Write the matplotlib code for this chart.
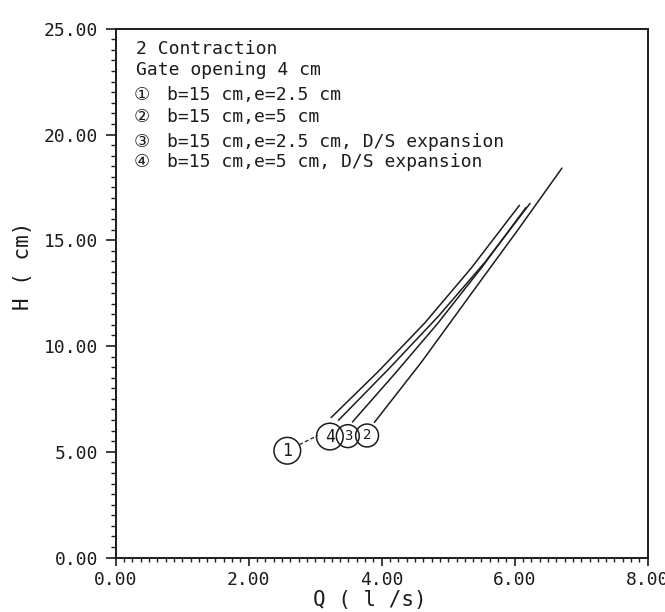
import matplotlib

matplotlib.use("Agg")
import matplotlib.pyplot as plt
from matplotlib.ticker import FormatStrFormatter, MultipleLocator

# Rating curves, 2 contraction, gate opening 4 cm
# discharge Q (l/s) against upstream head H (cm)
q_run1 = [3.35, 4.10, 4.85, 5.55, 6.23]
h_run1 = [6.49, 8.90, 11.40, 13.95, 16.74]

q_run2 = [3.89, 4.60, 5.38, 6.05, 6.71]
h_run2 = [6.39, 9.25, 12.62, 15.50, 18.41]

q_run3 = [3.56, 4.20, 4.85, 5.50, 6.17]
h_run3 = [6.41, 8.70, 11.10, 13.70, 16.55]

q_run4 = [3.24, 3.95, 4.65, 5.35, 6.07]
h_run4 = [6.62, 8.80, 11.10, 13.70, 16.65]

run_names = ["1", "2", "3", "4"]
run_notes = [
    "b=15 cm,e=2.5 cm",
    "b=15 cm,e=5 cm",
    "b=15 cm,e=2.5 cm, D/S expansion",
    "b=15 cm,e=5 cm, D/S expansion",
]

MONO = "DejaVu Sans Mono"
INK = "#1c1c1c"

fig, ax = plt.subplots(figsize=(6.65, 6.12), dpi=100)
fig.patch.set_facecolor("white")
fig.subplots_adjust(left=0.174, right=0.974, bottom=0.089, top=0.953)

for q, h in [(q_run1, h_run1), (q_run2, h_run2), (q_run3, h_run3), (q_run4, h_run4)]:
    ax.plot(q, h, color=INK, lw=1.1, solid_capstyle="round")

# circled run numbers at the foot of each curve
circle_font = {"1": 12, "2": 10, "3": 10, "4": 12}
circle_pad = {"1": 0.26, "2": 0.32, "3": 0.32, "4": 0.26}
circle_at = {"1": (2.58, 5.05), "4": (3.22, 5.72), "3": (3.49, 5.74), "2": (3.78, 5.77)}
for name in ["4", "3", "2"]:
    ax.text(
        *circle_at[name], name,
        ha="center", va="center", family=MONO, fontsize=circle_font[name], color=INK,
        bbox=dict(boxstyle=f"circle,pad={circle_pad[name]}", fc="none", ec=INK, lw=1.1),
    )
ax.annotate(
    "1", xy=(3.03, 5.76), xytext=circle_at["1"],
    ha="center", va="center", family=MONO, fontsize=circle_font["1"], color=INK,
    bbox=dict(boxstyle=f"circle,pad={circle_pad['1']}", fc="none", ec=INK, lw=1.1),
    arrowprops=dict(arrowstyle="-", color=INK, lw=0.9, linestyle=(0, (2.5, 2.5)),
                    shrinkA=0, shrinkB=0),
)

# header block in the top-left corner
ax.text(0.039, 0.962, "2 Contraction", transform=ax.transAxes,
        family=MONO, fontsize=13, color=INK, va="center")
ax.text(0.039, 0.922, "Gate opening 4 cm", transform=ax.transAxes,
        family=MONO, fontsize=13, color=INK, va="center")
circled = ["\u2460", "\u2461", "\u2462", "\u2463"]
rows_y = [0.874, 0.834, 0.7865, 0.7475]
for mark, note, y in zip(circled, run_notes, rows_y):
    ax.text(0.049, y, mark, transform=ax.transAxes, ha="center", va="center",
            family=["DejaVu Sans", "Noto Sans CJK SC"], fontsize=13, color=INK)
    ax.text(0.096, y, note, transform=ax.transAxes, va="center",
            family=MONO, fontsize=13, color=INK)

ax.set_xlim(0, 8)
ax.set_ylim(0, 25)
ax.xaxis.set_major_locator(MultipleLocator(2))
ax.xaxis.set_minor_locator(MultipleLocator(0.125))
ax.yaxis.set_major_locator(MultipleLocator(5))
ax.yaxis.set_minor_locator(MultipleLocator(0.5))
ax.xaxis.set_major_formatter(FormatStrFormatter("%.2f"))
ax.yaxis.set_major_formatter(FormatStrFormatter("%.2f"))

ax.tick_params(axis="y", which="major", direction="out", length=7.5, width=1.2, pad=5,
               colors=INK, labelsize=13)
ax.tick_params(axis="y", which="minor", direction="out", length=3.8, width=1.0, colors=INK)
ax.tick_params(axis="x", which="major", direction="out", length=5.5, width=1.2, pad=4,
               colors=INK, labelsize=13)
ax.tick_params(axis="x", which="minor", direction="out", length=3.2, width=1.0, colors=INK)
for lab in ax.get_xticklabels() + ax.get_yticklabels():
    lab.set_family(MONO)

for side in ["left", "right", "top", "bottom"]:
    ax.spines[side].set_linewidth(1.4)
    ax.spines[side].set_color(INK)

fig.text(0.556, 0.020, "Q ( l /s)", family=MONO, fontsize=15, color=INK,
         ha="center", va="center")
fig.text(0.034, 0.565, "H ( cm)", family=MONO, fontsize=15, color=INK,
         ha="center", va="center", rotation=90)

fig.savefig("out.png", dpi=100, facecolor="white")
plt.close(fig)
